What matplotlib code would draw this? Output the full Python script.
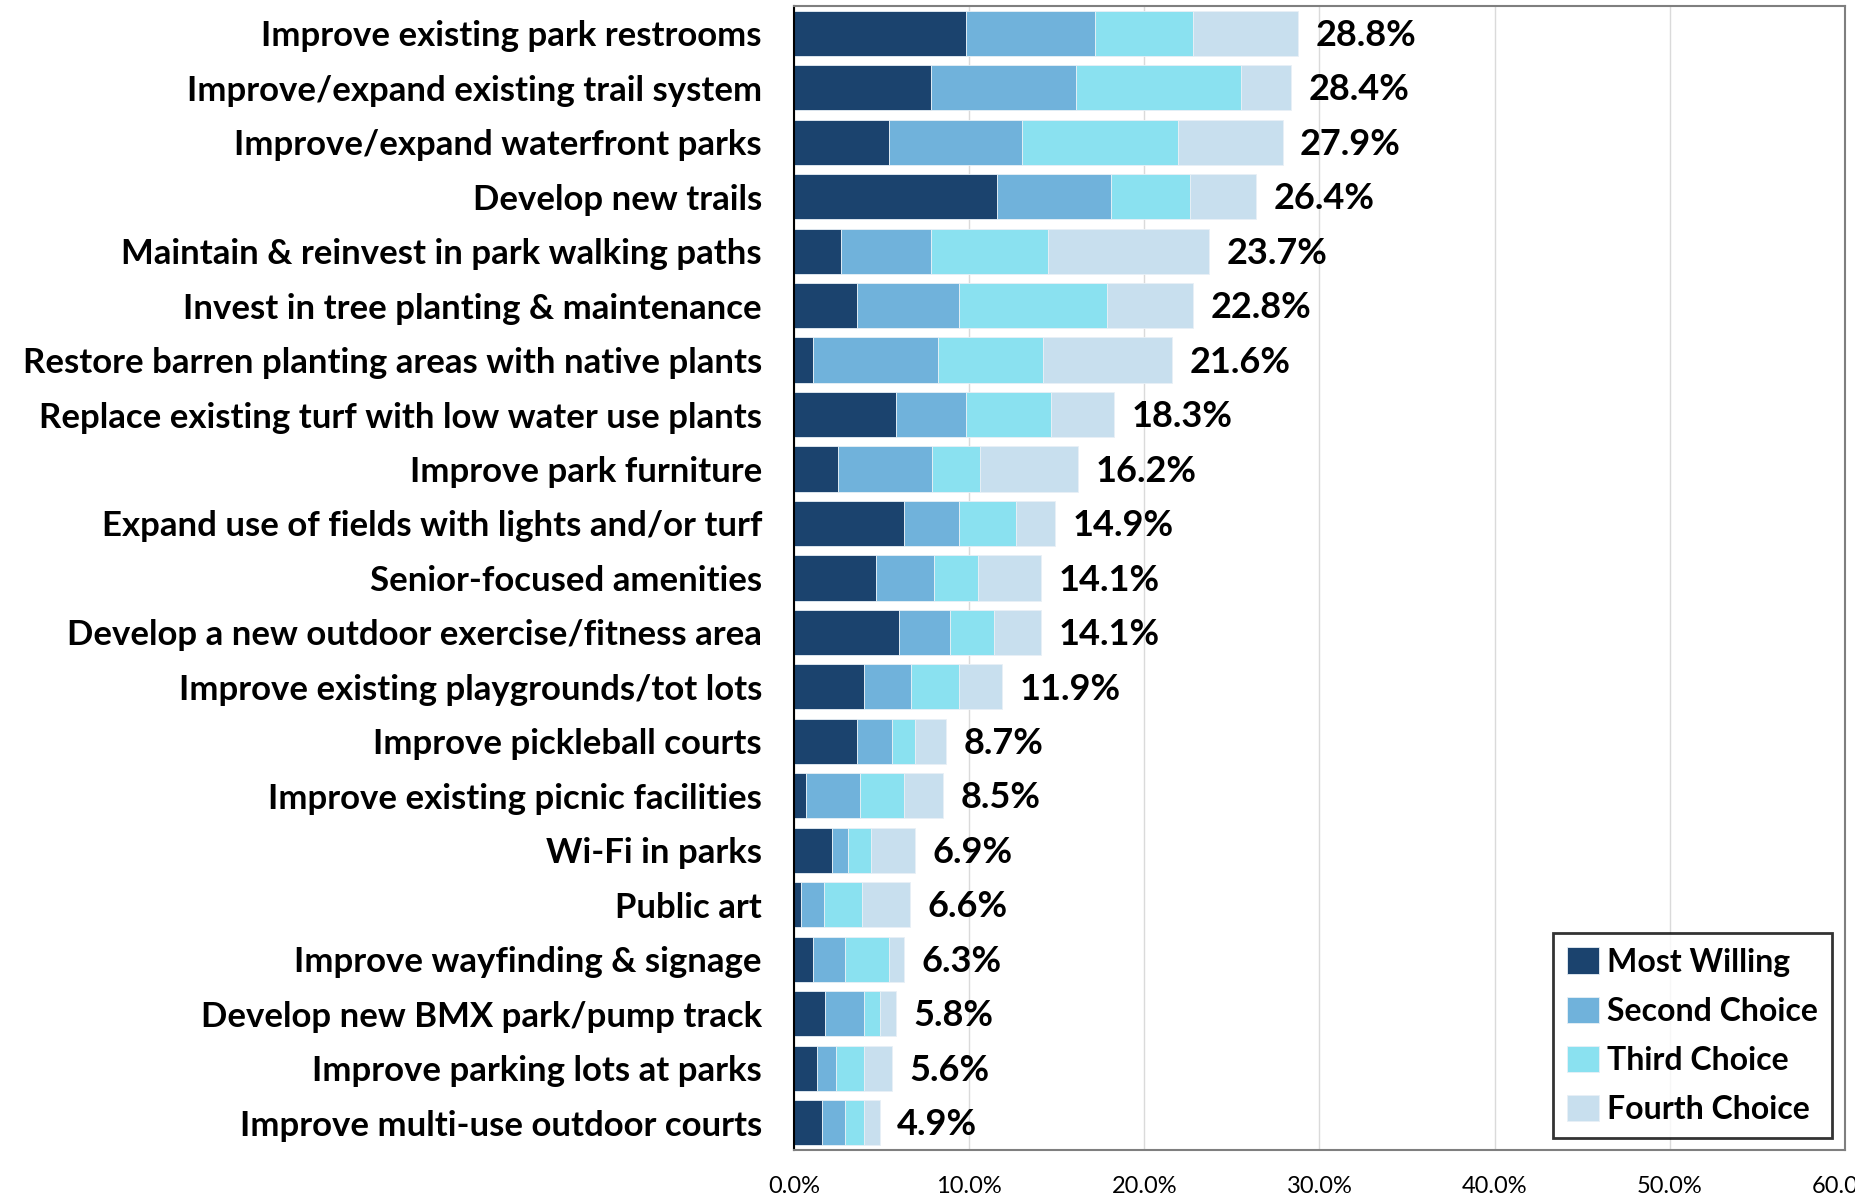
import matplotlib
matplotlib.use("Agg")
import matplotlib.pyplot as plt
import numpy as np

# categories, top to bottom
amenities = [
    "Improve existing park restrooms",
    "Improve/expand existing trail system",
    "Improve/expand waterfront parks",
    "Develop new trails",
    "Maintain & reinvest in park walking paths",
    "Invest in tree planting & maintenance",
    "Restore barren planting areas with native plants",
    "Replace existing turf with low water use plants",
    "Improve park furniture",
    "Expand use of fields with lights and/or turf",
    "Senior-focused amenities",
    "Develop a new outdoor exercise/fitness area",
    "Improve existing playgrounds/tot lots",
    "Improve pickleball courts",
    "Improve existing picnic facilities",
    "Wi-Fi in parks",
    "Public art",
    "Improve wayfinding & signage",
    "Develop new BMX park/pump track",
    "Improve parking lots at parks",
    "Improve multi-use outdoor courts",
]

most_willing = [9.8, 7.8, 5.4, 11.6, 2.7, 3.6, 1.1, 5.8, 2.5, 6.3, 4.7,
                6.0, 4.0, 3.6, 0.7, 2.2, 0.4, 1.1, 1.8, 1.3, 1.6]
second_choice = [7.4, 8.3, 7.6, 6.5, 5.1, 5.8, 7.1, 4.0, 5.4, 3.1, 3.3,
                 2.9, 2.7, 2.0, 3.1, 0.9, 1.3, 1.8, 2.2, 1.1, 1.3]
third_choice = [5.6, 9.4, 8.9, 4.5, 6.7, 8.5, 6.0, 4.9, 2.7, 3.3, 2.5,
                2.5, 2.7, 1.3, 2.5, 1.3, 2.2, 2.5, 0.9, 1.6, 1.1]
fourth_choice = [6.0, 2.9, 6.0, 3.8, 9.2, 4.9, 7.4, 3.6, 5.6, 2.2, 3.6,
                 2.7, 2.5, 1.8, 2.2, 2.5, 2.7, 0.9, 0.9, 1.6, 0.9]
totals = [28.8, 28.4, 27.9, 26.4, 23.7, 22.8, 21.6, 18.3, 16.2, 14.9, 14.1,
          14.1, 11.9, 8.7, 8.5, 6.9, 6.6, 6.3, 5.8, 5.6, 4.9]

series = ["Most Willing", "Second Choice", "Third Choice", "Fourth Choice"]
colors = ["#1b436e", "#70b2db", "#8ae1f0", "#c8dfee"]

plt.rcParams['font.family'] = ['Lato', 'DejaVu Sans']

fig = plt.figure(figsize=(18.55, 11.99), dpi=100)
ax = fig.add_axes([0.428, 0.041, 0.5665, 0.954])

y = np.arange(len(amenities))
left = np.zeros(len(amenities))
for name, vals, col in zip(series, [most_willing, second_choice, third_choice, fourth_choice], colors):
    ax.barh(y, vals, left=left, height=0.83, color=col, label=name,
            edgecolor="#e8f0f6", linewidth=0.6, zorder=2)
    left += np.array(vals)

# total labels at the bar ends
for yi, tot in zip(y, totals):
    ax.text(tot + 1.0, yi + 0.04, f"{tot:.1f}%", va="center", ha="left",
            fontsize=26, fontweight="bold", color="black")

ax.set_xlim(0, 60)
ax.set_ylim(len(amenities) - 0.5, -0.5)
ax.set_xticks(np.arange(0, 61, 10))
ax.set_xticklabels([f"{v:.1f}%" for v in np.arange(0, 61, 10)], fontsize=17)
ax.set_yticks(y)
ax.set_yticklabels(amenities, fontsize=25, fontweight="bold")
ax.tick_params(axis="y", length=0, pad=23)
ax.tick_params(axis="x", length=0, pad=19)

ax.grid(axis="x", color="#dadada", linewidth=1, zorder=0)
ax.set_axisbelow(True)
for side in ["top", "right", "bottom"]:
    ax.spines[side].set_color("#7f7f7f")
    ax.spines[side].set_linewidth(1.5)
ax.spines["left"].set_color("black")
ax.spines["left"].set_linewidth(1.5)

leg = ax.legend(loc="lower right", bbox_to_anchor=(0.988, 0.01),
                prop={"weight": "bold", "size": 23}, frameon=True, fancybox=False,
                edgecolor="black", handlelength=1.0, handleheight=0.9,
                handletextpad=0.25, labelspacing=0.62, borderpad=0.45,
                borderaxespad=0)
leg.get_frame().set_linewidth(2)

fig.savefig("out.png", dpi=100)
